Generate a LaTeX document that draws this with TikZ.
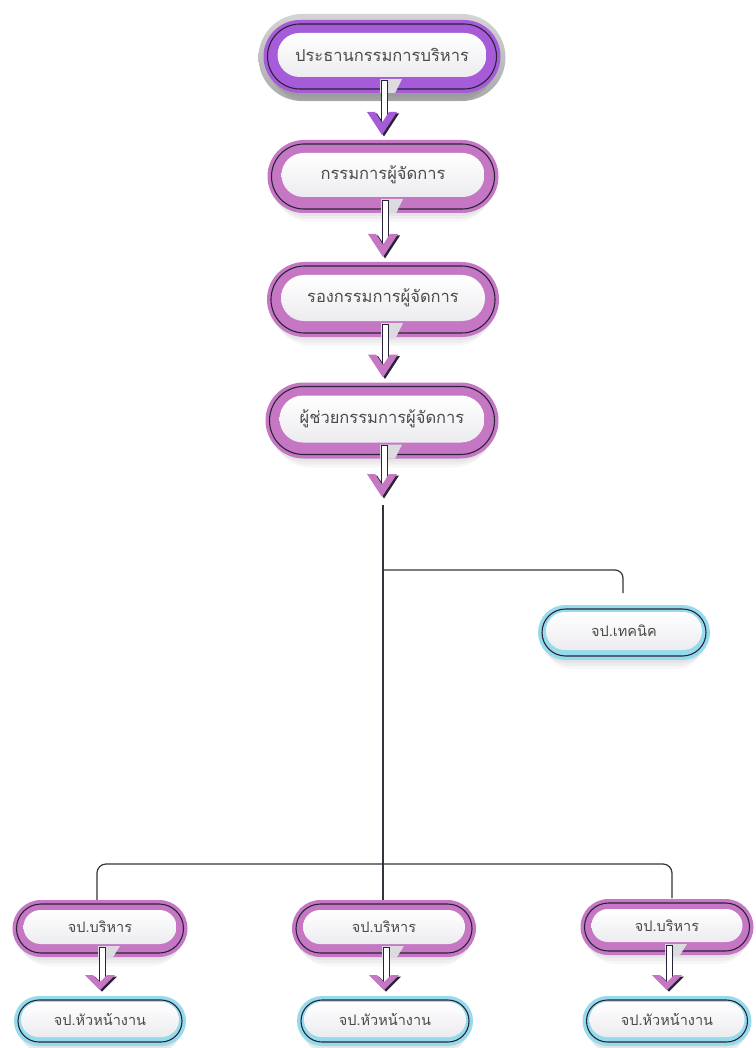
\documentclass[tikz,border=0pt]{standalone}
\usepackage{fontspec}
\newfontfamily\thaifont[Script=Thai]{Loma}
\usetikzlibrary{shapes.misc,calc}

\definecolor{violetring}{HTML}{A65BD9}
\definecolor{pinkring}{HTML}{C577C4}
\definecolor{bluering}{HTML}{96DBEC}
\definecolor{edge}{HTML}{2A2238}
\definecolor{innergrey}{HTML}{ECECF0}
\definecolor{notch}{HTML}{DCDCE0}
\definecolor{haloA}{HTML}{D4D4D4}
\definecolor{haloB}{HTML}{ABABAB}
\definecolor{txt}{HTML}{4A4A4A}
\definecolor{wire}{HTML}{34343C}

\tikzset{
  capsule/.style={rounded rectangle, inner sep=0pt, outer sep=0pt},
  conn/.style={draw=wire, line width=1.2pt},
}

% #1 name, #2 x, #3 y, #4 width, #5 height, #6 ring colour, #7 ring band, #8 text, #9 font size
\newcommand{\orgbox}[9]{%
  \node[capsule, fill=black, opacity=.035, minimum width=#4-4, minimum height=#5] (#1-s1) at ([yshift=-3pt]#2,#3) {};
  \node[capsule, fill=black, opacity=.035, minimum width=#4-8, minimum height=#5] (#1-s2) at ([yshift=-6pt]#2,#3) {};
  \node[capsule, fill=black, opacity=.03, minimum width=#4-14, minimum height=#5] (#1-s3) at ([yshift=-9pt]#2,#3) {};
  \node[capsule, fill=#6, minimum width=#4, minimum height=#5] (#1) at (#2,#3) {};
  \node[capsule, draw=edge, line width=1.1pt, minimum width=#4-8, minimum height=#5-8] (#1-line) at (#1.center) {};
  \node[capsule, top color=white, bottom color=innergrey, minimum width=#4-2*#7, minimum height=#5-2*#7-1,
        text=txt, font=\thaifont\fontsize{#9}{#9}\selectfont] (#1-in) at ([yshift=1.5pt]#1.center) {#8};
}

% #1 upper node, #2 tip point, #3 ring band, #4 chevron height, #5 chevron colour
\newcommand{\flowarrow}[5]{%
  \fill[notch] let \p1=(#1.south) in
    (\x1-2pt,\y1+#3pt) -- (\x1+20pt,\y1+#3pt) -- (\x1+13pt,\y1) -- (\x1-2pt,\y1) -- cycle;
  \filldraw[fill=white, draw=edge, line width=.7pt] let \p1=(#1.south), \p2=(#2) in
    (\x1-1pt,\y1+#3pt-1pt) rectangle (\x1+5pt,{\y2+#4pt*8/15-3pt});
  \fill[edge] let \p1=(#1.south), \p2=(#2) in
    (\x1-13pt,\y2+#4pt-1.5pt) -- (\x1-5pt,\y2+#4pt-1.5pt) -- (\x1+2pt,{\y2+#4pt*8/15-1.5pt})
    -- (\x1+9pt,\y2+#4pt-1.5pt) -- (\x1+17pt,\y2+#4pt-1.5pt) -- (\x1+2pt,\y2-1.5pt) -- cycle;
  \fill[#5] let \p1=(#1.south), \p2=(#2) in
    (\x1-15pt,\y2+#4pt) -- (\x1-7pt,\y2+#4pt) -- (\x1,{\y2+#4pt*8/15})
    -- (\x1+7pt,\y2+#4pt) -- (\x1+15pt,\y2+#4pt) -- (\x1,\y2) -- cycle;
}

\begin{document}
\begin{tikzpicture}[x=1pt,y=-1pt]
\useasboundingbox[fill=white] (0,0) rectangle (755,1048);

% tree wiring
\coordinate (hub) at (383,505);
\draw[conn] (hub) -- (hub |- 0,900);
\draw[conn, rounded corners=8pt] (hub |- 0,570) -| (623,593);
\draw[conn, rounded corners=9pt] (97,900) |- (672,864) -- (672,898);

% executive chain
\node[capsule, top color=haloA, bottom color=haloB, minimum width=247, minimum height=87] (b1-halo) at (382,57.5) {};
\orgbox{b1}{382}{56.5}{237}{73}{violetring}{14}{ประธานกรรมการบริหาร}{16.5}
\orgbox{b2}{383}{176.5}{231}{73}{pinkring}{14}{กรรมการผู้จัดการ}{16.5}
\orgbox{b3}{383}{299.5}{232}{75}{pinkring}{14}{รองกรรมการผู้จัดการ}{16.5}
\orgbox{b4}{382}{420.5}{233}{76}{pinkring}{14}{ผู้ช่วยกรรมการผู้จัดการ}{16.5}

% safety officers
\orgbox{t1}{624}{632.5}{172}{55}{bluering}{8}{จป.เทคนิค}{14.5}
\orgbox{m1}{100}{928.5}{175}{57}{pinkring}{11}{จป.บริหาร}{14.5}
\orgbox{m2}{384}{928.5}{184}{57}{pinkring}{11}{จป.บริหาร}{14.5}
\orgbox{m3}{667}{927}{173}{56}{pinkring}{11}{จป.บริหาร}{14.5}
\orgbox{l1}{100}{1021}{172}{50}{bluering}{7}{จป.หัวหน้างาน}{14.5}
\orgbox{l2}{385}{1021}{176}{50}{bluering}{7}{จป.หัวหน้างาน}{14.5}
\orgbox{l3}{667}{1021}{169}{50}{bluering}{7}{จป.หัวหน้างาน}{14.5}

% downward arrows
\flowarrow{b1}{$(b2.north)+(0,-5)$}{14}{23}{violetring}
\flowarrow{b2}{$(b3.north)+(0,-5)$}{14}{23}{pinkring}
\flowarrow{b3}{$(b4.north)+(0,-5)$}{14}{23}{pinkring}
\coordinate (b4-tip) at (383,497);
\flowarrow{b4}{b4-tip}{14}{23}{pinkring}
\flowarrow{m1}{$(l1.north)+(0,-6)$}{11}{15}{pinkring}
\flowarrow{m2}{$(l2.north)+(0,-6)$}{11}{15}{pinkring}
\flowarrow{m3}{$(l3.north)+(0,-6)$}{11}{15}{pinkring}
\end{tikzpicture}
\end{document}
